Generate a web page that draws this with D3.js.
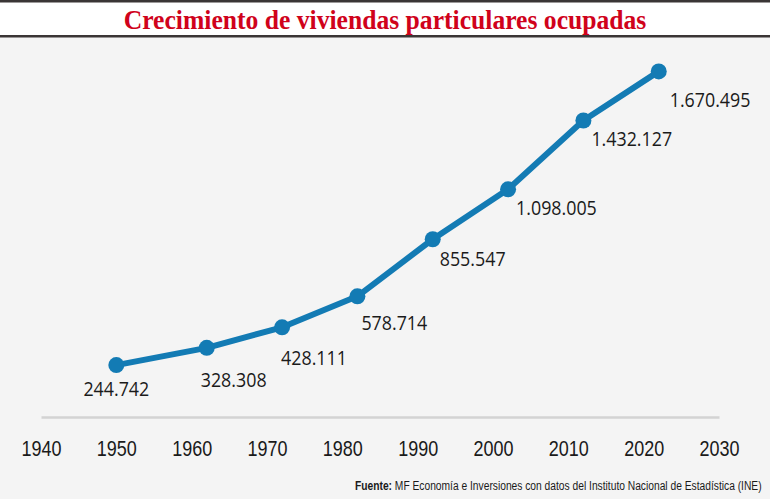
<!DOCTYPE html>
<html><head><meta charset="utf-8">
<script src="https://cdn.jsdelivr.net/npm/d3@7"></script>
<style>
body{margin:0;background:#f4f4f4;}
svg{display:block;}
</style></head>
<body>
<script>
const years = [1950, 1962, 1972, 1982, 1992, 2002, 2012, 2022];
const viviendas = [244742, 328308, 428111, 578714, 855547, 1098005, 1432127, 1670495];
const labels = ["244.742", "328.308", "428.111", "578.714", "855.547", "1.098.005", "1.432.127", "1.670.495"];
const tickYears = [1940, 1950, 1960, 1970, 1980, 1990, 2000, 2010, 2020, 2030];
// label layout (offset of label from its point)
const labelDx = [0, -6, -1, 4, 7, 8, 8, 11];
const labelDy = [31, 39, 38, 34, 27, 26, 26, 36];
const labelAnchor = ["middle", "start", "start", "start", "start", "start", "start", "start"];

const W = 770, H = 499;
const svg = d3.select("body").append("svg").attr("width", W).attr("height", H);
svg.append("rect").attr("width", W).attr("height", H).attr("fill", "#f4f4f4");

// fit a text element horizontally (emulates condensed typefaces)
function condense(gSel, textSel, targetWidth) {
  const w = textSel.node().getComputedTextLength();
  return w > 0 ? targetWidth / w : 1;
}

// title band
svg.append("rect").attr("x", 0).attr("y", 2).attr("width", W).attr("height", 34).attr("fill", "#ffffff");
svg.append("rect").attr("x", 0).attr("y", 0).attr("width", W).attr("height", 2.5).attr("fill", "#3a3535");
svg.append("rect").attr("x", 0).attr("y", 35).attr("width", W).attr("height", 2.5).attr("fill", "#3a3535");
const tg = svg.append("g");
const tt = tg.append("text").attr("x", 0).attr("y", 0).attr("text-anchor", "middle")
  .attr("font-family", "'Liberation Serif', serif")
  .attr("font-weight", "bold").attr("font-size", 26.5).attr("fill", "#d0021b")
  .text("Crecimiento de viviendas particulares ocupadas");
tg.attr("transform", `translate(385,28.5) scale(${condense(tg, tt, 523)},1)`);

const x = d3.scaleLinear().domain([1940, 2030]).range([41, 719]);
const y = d3.scaleLinear().domain([0, 1700000]).range([415.5, 415.5 - 1700000 * 2.06e-4]);

// baseline + year labels
const axis = d3.axisBottom(x).tickValues(tickYears).tickFormat(d3.format("d")).tickSize(0).tickPadding(0);
const g = svg.append("g").attr("transform", `translate(0,${417})`).call(axis);
g.select(".domain").attr("stroke", "#d3d3d3").attr("stroke-width", 2.5);
g.selectAll(".tick text").attr("font-family", "'Liberation Sans', Arial, sans-serif")
  .attr("font-size", 22.5).attr("fill", "#1a1a1a").attr("dy", 0).attr("y", 0)
  .attr("transform", "translate(0,38.5) scale(0.8,1)");

const pts = years.map((yr, i) => ({yr, v: viviendas[i], i}));
const line = d3.line().x(d => x(d.yr)).y(d => y(d.v));
svg.append("path").datum(pts).attr("d", line).attr("fill", "none")
  .attr("stroke", "#137bb4").attr("stroke-width", 6).attr("stroke-linejoin", "round");
svg.selectAll("circle.pt").data(pts).enter().append("circle")
  .attr("cx", d => x(d.yr)).attr("cy", d => y(d.v)).attr("r", 8).attr("fill", "#137bb4");
svg.selectAll("g.lbl").data(pts).enter().append("g")
  .attr("transform", d => `translate(${x(d.yr) + labelDx[d.i]},${y(d.v) + labelDy[d.i]}) scale(0.87,1)`)
  .append("text")
  .attr("text-anchor", d => labelAnchor[d.i])
  .attr("font-family", "'Open Sans', sans-serif")
  .attr("font-size", 20.5).attr("fill", "#1a1a1a")
  .text(d => labels[d.i]);

// source
const sg = svg.append("g");
const src = sg.append("text").attr("x", 0).attr("y", 0).attr("text-anchor", "start")
  .attr("font-family", "'Liberation Sans', Arial, sans-serif")
  .attr("font-size", 12.5).attr("fill", "#1a1a1a");
src.append("tspan").attr("font-weight", "bold").text("Fuente:");
src.append("tspan").text(" MF Economía e Inversiones con datos del Instituto Nacional de Estadística (INE)");
sg.attr("transform", `translate(355,490) scale(${condense(sg, src, 407)},1)`);
</script>
</body></html>
